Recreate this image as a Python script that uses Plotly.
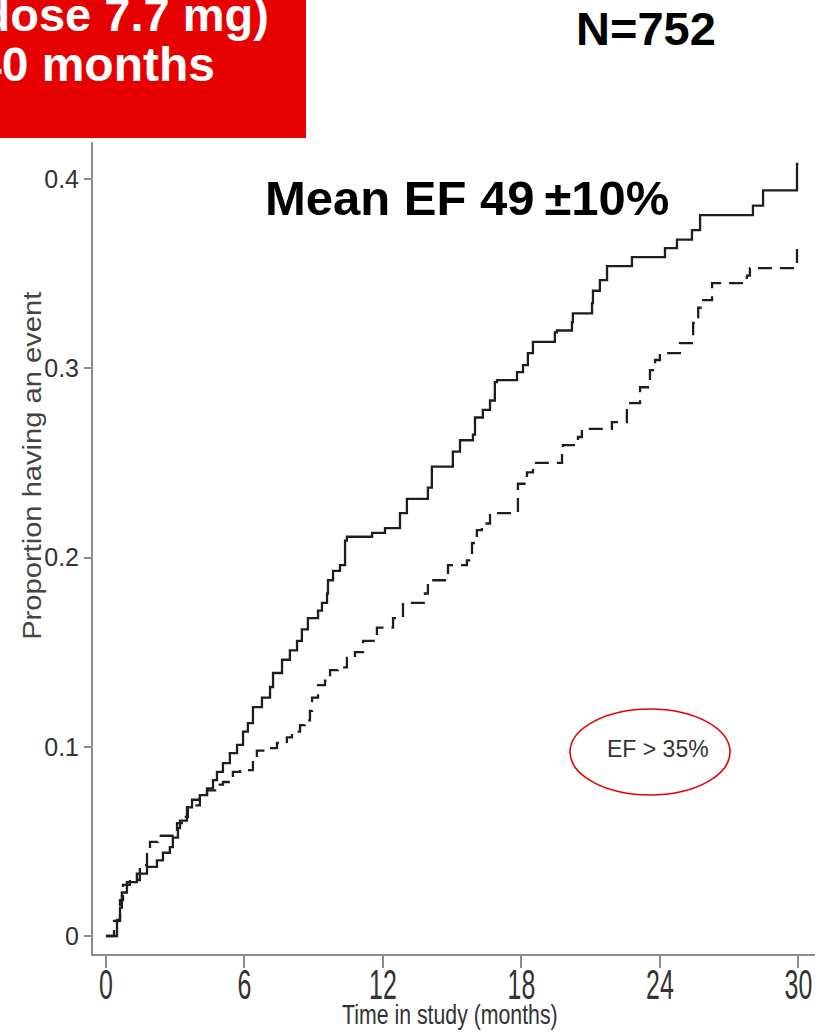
import plotly.graph_objects as go

# Cumulative proportion having an event, EF > 35% subgroup
months_a = [0, 0.48, 0.61, 0.69, 0.91, 1.34, 1.78, 2.21, 2.47, 2.77, 2.90, 3.12, 3.21,
            3.51, 3.73, 4.07, 4.38, 4.64, 4.81, 5.07, 5.37, 5.68, 5.94, 6.15, 6.37,
            6.76, 7.11, 7.24, 7.63, 7.97, 8.28, 8.49, 8.75, 9.19, 9.36, 9.58, 9.62,
            9.84, 10.14, 10.36, 10.44, 11.53, 12.09, 12.74, 13.04, 13.95, 14.12,
            15.03, 15.34, 15.90, 15.99, 16.33, 16.64, 16.85, 16.94, 17.81, 18.07,
            18.28, 18.50, 19.45, 19.54, 20.19, 20.23, 21.06, 21.10, 21.40, 21.71,
            22.79, 24.22, 24.74, 25.39, 25.74, 28.03, 28.47, 29.94, 30.0]
events_a = [0, 0.0085, 0.015, 0.023, 0.0285, 0.033, 0.0365, 0.040, 0.044, 0.047, 0.052,
            0.057, 0.061, 0.068, 0.072, 0.0745, 0.078, 0.0824, 0.0867, 0.0914, 0.0967,
            0.101, 0.108, 0.1125, 0.121, 0.126, 0.1316, 0.139, 0.146, 0.151, 0.156,
            0.162, 0.168, 0.172, 0.176, 0.181, 0.188, 0.193, 0.196, 0.209, 0.211,
            0.213, 0.2156, 0.2235, 0.231, 0.237, 0.248, 0.256, 0.262, 0.265, 0.274,
            0.278, 0.283, 0.2927, 0.2938, 0.298, 0.3017, 0.308, 0.314, 0.319, 0.320,
            0.3244, 0.329, 0.3345, 0.341, 0.3466, 0.354, 0.3588, 0.3635, 0.368,
            0.373, 0.381, 0.386, 0.394, 0.408, 0.408]

months_b = [0, 0.35, 0.61, 0.74, 1.04, 1.47, 1.78, 1.91, 2.25, 3.08, 3.29, 3.55, 4.07,
            4.38, 4.81, 5.07, 5.50, 5.81, 6.37, 6.54, 6.98, 7.41, 7.84, 8.06, 8.41,
            8.62, 8.84, 8.93, 9.19, 9.49, 9.71, 10.05, 10.44, 10.79, 11.14, 11.74,
            12.44, 12.87, 13.82, 13.95, 14.82, 15.64, 15.86, 16.07, 16.29, 16.64,
            17.85, 18.24, 18.50, 19.76, 19.80, 20.45, 20.62, 21.92, 22.57, 23.14,
            23.57, 23.79, 24.00, 24.87, 25.44, 25.66, 25.82, 26.26, 27.77, 27.90,
            29.94, 30.0]
events_b = [0, 0.008, 0.019, 0.027, 0.0296, 0.0375, 0.045, 0.0497, 0.053, 0.0597, 0.063,
            0.069, 0.0745, 0.077, 0.080, 0.0814, 0.0867, 0.0877, 0.093, 0.098, 0.0993,
            0.102, 0.105, 0.108, 0.1115, 0.114, 0.119, 0.126, 0.1326, 0.135, 0.1405,
            0.142, 0.147, 0.150, 0.156, 0.163, 0.168, 0.176, 0.181, 0.188, 0.196,
            0.1985, 0.2077, 0.2145, 0.218, 0.2235, 0.239, 0.245, 0.250, 0.2568,
            0.2594, 0.2637, 0.268, 0.2716, 0.2816, 0.290, 0.299, 0.3044, 0.308,
            0.3133, 0.324, 0.332, 0.336, 0.345, 0.349, 0.353, 0.366, 0.366]

x_ticks = [0, 6, 12, 18, 24, 30]
y_ticks = [0, 0.1, 0.2, 0.3, 0.4]
y_tick_text = ["0", "0.1", "0.2", "0.3", "0.4"]

header_lines = ["(mean dose 7.7 mg)", "Follow-up 40 months"]
sample_label = "N=752"
ef_label = "Mean EF 49\u2009\u00b110%"
subgroup_label = "EF > 35%"
x_title = "Time in study (months)"
y_title = "Proportion having an event"

sans = "Liberation Sans, Arial, Helvetica, sans-serif"
axis_grey = "#8c8c8c"
label_grey = "#333333"
red = "#E60000"

fig = go.Figure()
fig.add_trace(go.Scatter(x=months_a, y=events_a, mode="lines", line_shape="hv",
                         line=dict(color="#1e1e1e", width=2.3), showlegend=False))
fig.add_trace(go.Scatter(x=months_b, y=events_b, mode="lines", line_shape="hv",
                         line=dict(color="#1e1e1e", width=2.3, dash="14px,8px"),
                         showlegend=False))

fig.update_layout(
    width=825, height=1034,
    margin=dict(l=93, r=10, t=142, b=80, autoexpand=False),
    paper_bgcolor="white", plot_bgcolor="white",
    xaxis=dict(range=[-0.56, 30.72], tickvals=x_ticks, ticks="outside", ticklen=12,
               tickwidth=1.5, tickcolor=axis_grey, showline=True, linecolor=axis_grey,
               linewidth=2, showgrid=False, zeroline=False, automargin=False,
               ticklabelstandoff=-21,
               tickfont=dict(family=sans, size=43, color=label_grey)),
    yaxis=dict(range=[-0.0095, 0.4196], tickvals=y_ticks, ticktext=y_tick_text,
               ticks="outside", ticklen=7, tickwidth=1.5, tickcolor=axis_grey,
               showline=True, linecolor=axis_grey, linewidth=2, showgrid=False,
               zeroline=False, automargin=False,
               tickfont=dict(family=sans, size=25, color=label_grey)),
)

# red header panel, running off the left/top edge
fig.add_shape(type="rect", xref="paper", yref="paper", x0=-0.14, x1=0.295,
              y0=1.0049, y1=1.2, fillcolor=red, line_width=0, layer="above")
fig.add_shape(type="circle", xref="paper", yref="paper", x0=0.6607, x1=0.8823,
              y0=0.1958, y1=0.3017, line=dict(color=red, width=1.6))

annotations = [
    dict(text="<b>%s</b>" % header_lines[0], x=0.2466, y=1.1576, xanchor="right",
         yanchor="middle", font=dict(family=sans, size=47, color="white")),
    dict(text="<b>%s</b>" % header_lines[1], x=0.1717, y=1.0954, xanchor="right",
         yanchor="middle", font=dict(family=sans, size=48, color="white")),
    dict(text="<b>%s</b>" % sample_label, x=0.7659, y=1.1395, xanchor="center",
         yanchor="middle", font=dict(family=sans, size=47, color="black")),
    dict(text="<b>%s</b>" % ef_label, x=0.2355, y=0.9305, xanchor="left",
         yanchor="middle", font=dict(family=sans, size=49, color="black")),
    dict(text=subgroup_label, x=0.7825, y=0.2525, xanchor="center", yanchor="middle",
         font=dict(family=sans, size=23, color=label_grey)),
    dict(text=y_title, x=-0.0845, y=0.602, textangle=-90, xanchor="center",
         yanchor="middle", font=dict(family=sans, size=26, color="#444444")),
    dict(text=x_title, x=0.4945, y=-0.0745, xanchor="center", yanchor="middle",
         font=dict(family=sans, size=28, color=label_grey)),
]
for a in annotations:
    a.update(xref="paper", yref="paper", showarrow=False)
fig.update_layout(annotations=annotations)

# the x-axis lettering is set in a condensed face; the y title is slightly widened
post = """
var gd = document.getElementById('{plot_id}');
function fit(t, f) {
  var w = t.getComputedTextLength();
  t.setAttribute('lengthAdjust', 'spacingAndGlyphs');
  t.setAttribute('textLength', (w * f).toFixed(1));
}
gd.querySelectorAll('.xtick text').forEach(function (t) { fit(t, 0.58); });
gd.querySelectorAll('.annotation-text').forEach(function (t) {
  if (t.textContent === '%s') { fit(t, 0.76); }
  if (t.textContent === '%s') { fit(t, 1.12); }
});
""" % (x_title, y_title)

fig.write_html("out.html", post_script=post)
